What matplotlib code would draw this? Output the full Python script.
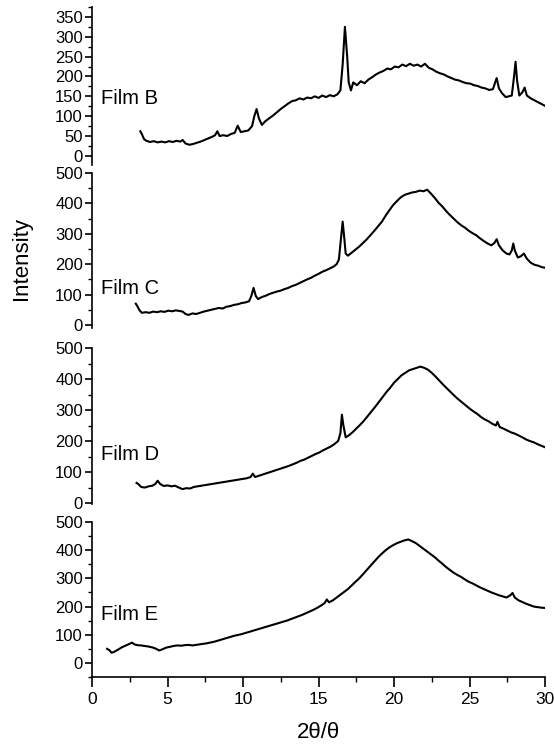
import matplotlib
matplotlib.use("Agg")
import matplotlib.pyplot as plt
from matplotlib.ticker import MultipleLocator

plt.rcParams['font.family'] = ['Liberation Sans', 'DejaVu Sans']

# ---------------- data ----------------
film_names = ["Film B", "Film C", "Film D", "Film E"]

xB = [3.2, 3.3, 3.45, 3.6, 3.85, 4.1, 4.35, 4.6, 4.85, 5.1, 5.35, 5.6, 5.85, 6.0, 6.2, 6.45, 6.7, 6.95,
      7.2, 7.45, 7.7, 7.95, 8.15, 8.3, 8.45, 8.7, 8.95, 9.2, 9.45, 9.65, 9.85, 10.1, 10.35, 10.6, 10.75,
      10.9, 11.05, 11.25, 11.5, 11.75, 12.0, 12.25, 12.5, 12.75, 13.0, 13.25, 13.5, 13.75, 14.0, 14.25,
      14.5, 14.75, 15.0, 15.25, 15.5, 15.75, 16.0, 16.25, 16.45, 16.6, 16.75, 16.9, 17.0, 17.15, 17.3,
      17.55, 17.8, 18.05, 18.3, 18.55, 18.8, 19.05, 19.3, 19.55, 19.8, 20.05, 20.3, 20.55, 20.8, 21.05,
      21.3, 21.55, 21.8, 22.05, 22.3, 22.55, 22.8, 23.05, 23.3, 23.55, 23.8, 24.05, 24.3, 24.55, 24.8,
      25.05, 25.3, 25.55, 25.8, 26.05, 26.3, 26.55, 26.7, 26.8, 26.95, 27.15, 27.4, 27.6, 27.8, 27.95,
      28.05, 28.15, 28.3, 28.5, 28.65, 28.8, 29.05, 29.3, 29.55, 29.8, 30.05]
yB = [62, 55, 42, 38, 35, 37, 34, 36, 34, 37, 35, 38, 36, 40, 31, 28, 30, 33,
      36, 40, 44, 48, 52, 62, 50, 52, 50, 55, 58, 76, 60, 62, 64, 75, 100,
      118, 95, 78, 88, 95, 102, 110, 118, 125, 132, 138, 140, 145, 142, 147,
      145, 150, 146, 152, 148, 153, 150, 155, 165, 230, 325, 250, 185, 165, 185,
      178, 188, 183, 192, 198, 205, 210, 214, 220, 218, 225, 223, 230, 226, 232,
      227, 230, 225, 232, 222, 218, 212, 208, 205, 200, 196, 192, 190, 186, 183,
      182, 178, 176, 172, 170, 166, 168, 185, 196, 170, 158, 148, 150, 152, 200,
      237, 190, 152, 160, 172, 152, 145, 140, 135, 130, 125]

xC = [2.9, 3.0, 3.15, 3.3, 3.55, 3.8, 4.05, 4.3, 4.55, 4.8, 5.05, 5.3, 5.55, 5.8, 6.0, 6.2, 6.4, 6.65,
      6.9, 7.15, 7.4, 7.65, 7.9, 8.15, 8.4, 8.65, 8.9, 9.15, 9.4, 9.65, 9.9, 10.15, 10.4, 10.55, 10.7,
      10.85, 11.0, 11.25, 11.5, 11.75, 12.0, 12.25, 12.5, 12.75, 13.0, 13.25, 13.5, 13.75, 14.0, 14.25,
      14.5, 14.75, 15.0, 15.25, 15.5, 15.75, 16.0, 16.2, 16.35, 16.5, 16.6, 16.7, 16.8, 16.95, 17.2,
      17.45, 17.7, 17.95, 18.2, 18.45, 18.7, 18.95, 19.2, 19.45, 19.7, 19.95, 20.2, 20.45, 20.7, 20.95,
      21.2, 21.45, 21.7, 21.95, 22.2, 22.45, 22.7, 22.95, 23.2, 23.45, 23.7, 23.95, 24.2, 24.45, 24.7,
      24.95, 25.2, 25.45, 25.7, 25.95, 26.2, 26.45, 26.65, 26.8, 26.95, 27.2, 27.45, 27.65, 27.8, 27.9,
      28.0, 28.2, 28.4, 28.6, 28.8, 29.05, 29.3, 29.55, 29.8, 30.05]
yC = [70, 62, 48, 40, 42, 40, 44, 42, 45, 43, 47, 45, 48, 46, 44, 36, 33, 38,
      36, 40, 44, 47, 50, 53, 56, 54, 60, 62, 66, 68, 72, 74, 78, 95, 122,
      95, 85, 92, 96, 102, 106, 110, 113, 118, 122, 128, 132, 138, 144, 150,
      155, 162, 168, 175, 180, 186, 192, 200, 215, 290, 340, 290, 235, 228, 238,
      248, 258, 270, 282, 296, 310, 325, 340, 360, 378, 395, 408, 420, 428, 432,
      436, 438, 442, 440, 445, 432, 418, 402, 390, 375, 362, 350, 338, 328, 320,
      310, 302, 295, 285, 276, 268, 262, 270, 282, 262, 245, 235, 232, 245, 268,
      245, 222, 226, 235, 218, 205, 198, 195, 190, 188]

xD = [2.95, 3.1, 3.25, 3.5, 3.75, 4.0, 4.2, 4.35, 4.5, 4.75, 5.0, 5.25, 5.5, 5.75, 6.0, 6.25, 6.5,
      6.75, 7.0, 7.25, 7.5, 7.75, 8.0, 8.25, 8.5, 8.75, 9.0, 9.25, 9.5, 9.75, 10.0, 10.25, 10.5, 10.65,
      10.8, 11.05, 11.3, 11.55, 11.8, 12.05, 12.3, 12.55, 12.8, 13.05, 13.3, 13.55, 13.8, 14.05, 14.3,
      14.55, 14.8, 15.05, 15.3, 15.55, 15.8, 16.05, 16.3, 16.45, 16.55, 16.65, 16.8, 17.0, 17.25, 17.5,
      17.75, 18.0, 18.25, 18.5, 18.75, 19.0, 19.25, 19.5, 19.75, 20.0, 20.25, 20.5, 20.75, 21.0, 21.25,
      21.5, 21.75, 22.0, 22.25, 22.5, 22.75, 23.0, 23.25, 23.5, 23.75, 24.0, 24.25, 24.5, 24.75, 25.0,
      25.25, 25.5, 25.75, 26.0, 26.25, 26.5, 26.75, 26.85, 27.0, 27.25, 27.5, 27.75, 28.0, 28.25, 28.5,
      28.75, 29.0, 29.25, 29.5, 29.75, 30.0]
yD = [65, 60, 52, 50, 54, 56, 62, 72, 62, 55, 57, 54, 56, 50, 45, 48, 47,
      52, 54, 56, 58, 60, 62, 64, 66, 68, 70, 72, 74, 76, 78, 80, 84, 95,
      84, 88, 92, 96, 100, 104, 108, 112, 116, 120, 125, 130, 136, 140, 146,
      152, 158, 163, 170, 176, 182, 190, 200, 225, 285, 250, 212, 218, 228, 240,
      252, 265, 280, 295, 310, 326, 342, 358, 372, 388, 400, 412, 420, 428, 432,
      436, 440, 436, 430, 420, 408, 395, 382, 370, 358, 346, 335, 325, 315, 305,
      296, 288, 278, 270, 264, 256, 250, 262, 245, 240, 234, 228, 224, 218, 212,
      205, 200, 196, 190, 185, 180]

xE = [1.0, 1.15, 1.3, 1.5, 1.75, 2.0, 2.25, 2.5, 2.65, 2.8, 3.0, 3.25, 3.5, 3.75, 4.0, 4.25, 4.45,
      4.65, 4.9, 5.15, 5.4, 5.65, 5.9, 6.15, 6.4, 6.65, 6.9, 7.15, 7.4, 7.65, 7.9, 8.15, 8.4, 8.65,
      8.9, 9.15, 9.4, 9.65, 9.9, 10.15, 10.4, 10.65, 10.9, 11.15, 11.4, 11.65, 11.9, 12.15, 12.4,
      12.65, 12.9, 13.15, 13.4, 13.65, 13.9, 14.15, 14.4, 14.65, 14.9, 15.15, 15.4, 15.55, 15.7, 15.95,
      16.2, 16.45, 16.7, 16.95, 17.2, 17.45, 17.7, 17.95, 18.2, 18.45, 18.7, 18.95, 19.2, 19.45, 19.7,
      19.95, 20.2, 20.45, 20.7, 20.95, 21.2, 21.45, 21.7, 21.95, 22.2, 22.45, 22.7, 22.95, 23.2, 23.45,
      23.7, 23.95, 24.2, 24.45, 24.7, 24.95, 25.2, 25.45, 25.7, 25.95, 26.2, 26.45, 26.7, 26.95, 27.2,
      27.45, 27.7, 27.85, 28.0, 28.25, 28.5, 28.75, 29.0, 29.25, 29.5, 29.75, 30.0]
yE = [50, 45, 36, 40, 48, 56, 62, 68, 72, 66, 63, 62, 60, 58, 55, 50, 44,
      48, 54, 57, 60, 62, 61, 63, 64, 62, 64, 66, 68, 70, 73, 76, 80, 84,
      88, 92, 96, 99, 102, 106, 110, 114, 118, 122, 126, 130, 134, 138, 142,
      146, 150, 155, 160, 165, 170, 176, 182, 188, 195, 203, 212, 225, 215, 222,
      232, 242, 252, 262, 275, 288, 300, 315, 330, 345, 360, 375, 388, 400, 410,
      418, 425, 430, 435, 438, 432, 425, 415, 405, 395, 385, 375, 363, 352, 340,
      330, 320, 312, 305, 296, 288, 282, 275, 268, 262, 256, 250, 245, 240, 236,
      232, 240, 248, 232, 222, 216, 210, 205, 200, 198, 196, 195]

series_x = [xB, xC, xD, xE]
series_y = [yB, yC, yD, yE]
y_limits = [(-23, 375), (-10, 500), (-3, 500), (-50, 500)]
y_major = [50, 100, 100, 100]
y_top_tick = [350, 500, 500, 500]
x_tick_values = [0, 5, 10, 15, 20, 25, 30]

# ---------------- layout ----------------
W, H = 554, 746
fig = plt.figure(figsize=(W / 100, H / 100), dpi=100)

# pixel boxes (top, bottom) for each panel
boxes = [(7, 165), (173, 328), (348, 504), (522, 677)]
left_px, right_px = 92, 545
label_y_px = [98, 288, 455, 615]

for i, (top, bot) in enumerate(boxes):
    ax = fig.add_axes([left_px / W, 1 - bot / H, (right_px - left_px) / W, (bot - top) / H])
    ax.plot(series_x[i], series_y[i], color='black', lw=1.5)
    ax.set_xlim(0, 30)
    ax.set_ylim(*y_limits[i])
    ax.set_yticks(list(range(0, y_top_tick[i] + 1, y_major[i])))
    ax.yaxis.set_minor_locator(MultipleLocator(y_major[i] / 2))
    for s in ['top', 'right']:
        ax.spines[s].set_visible(False)
    ax.spines['left'].set_linewidth(1.2)
    ax.tick_params(axis='y', which='major', direction='out', length=5, width=1.2,
                   labelsize=12, pad=1.5)
    ax.tick_params(axis='y', which='minor', direction='out', length=3, width=1.0)
    ax.patch.set_alpha(0)
    if i < 3:
        ax.spines['bottom'].set_visible(False)
        ax.tick_params(axis='x', which='both', bottom=False, labelbottom=False)
    else:
        ax.spines['bottom'].set_linewidth(1.2)
        ax.set_xticks(x_tick_values)
        ax.xaxis.set_minor_locator(MultipleLocator(2.5))
        ax.tick_params(axis='x', which='major', direction='out', length=7, width=1.2,
                       labelsize=12.5, pad=4)
        ax.tick_params(axis='x', which='minor', direction='out', length=3.5, width=1.0)
    fig.text(101 / W, 1 - label_y_px[i] / H, film_names[i], fontsize=14.5,
             ha='left', va='center')

fig.text(22 / W, 1 - 258 / H, "Intensity", rotation=90, fontsize=16,
         ha='center', va='center')
fig.text(318 / W, 1 - 733 / H, "2θ/θ", fontsize=16, ha='center', va='center')

fig.savefig("out.png", dpi=100)
